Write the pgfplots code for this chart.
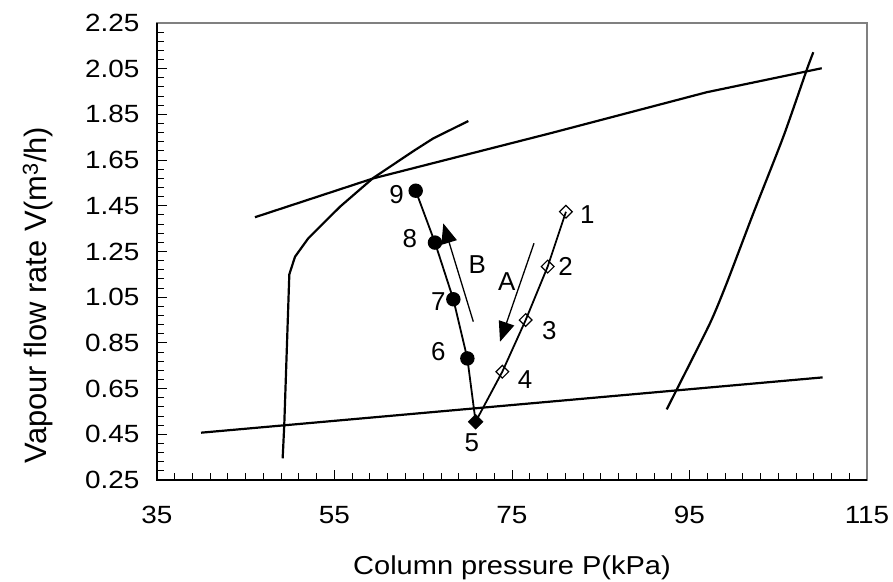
\documentclass[border=0pt]{standalone}
\usepackage{fontspec}
\setmainfont{Liberation Sans}
\newfontfamily\tickfont{Liberation Sans}[FakeStretch=1.12]
\usepackage{pgfplots}
\pgfplotsset{compat=1.18}
\usetikzlibrary{arrows.meta}
\begin{document}
\begin{tikzpicture}
\useasboundingbox (-157bp,-102bp) rectangle (736bp,480bp);
\begin{axis}[
 at={(0,0)}, anchor=south west,
 width=710bp, height=457bp, scale only axis,
 clip=false,
 xmin=35, xmax=115, ymin=0.25, ymax=2.25,
 xtick={35,55,75,95,115},
 ytick={0.25,0.45,0.65,0.85,1.05,1.25,1.45,1.65,1.85,2.05,2.25},
 minor x tick num=9, minor y tick num=4,
 tick align=inside, xtick pos=bottom, ytick pos=left,
 major tick length=10bp, minor tick length=7bp,
 every tick/.style={black, line width=1bp},
 axis line style={draw=gray, line width=1.5bp},
 /pgf/number format/assume math mode=true,
 ticklabel style={font=\tickfont\fontsize{25}{30}\selectfont},
 yticklabel style={/pgf/number format/fixed, /pgf/number format/fixed zerofill, /pgf/number format/precision=2, xshift=-14bp},
 xticklabel style={yshift=-23bp},
 xlabel={Column pressure P(kPa)},
 xlabel style={at={(axis description cs:0.5,0)}, anchor=base, yshift=-94bp, font=\tickfont\fontsize{26}{30}\selectfont},
 ylabel={Vapour flow rate V(m\textsuperscript{3}/h)},
 ylabel style={at={(axis description cs:-0.1676,0.405)}, anchor=center, font=\fontsize{31}{36}\selectfont},
]
% upper boundary line
\addplot[black, line width=2.2bp] coordinates {(46.04,1.400)(59.37,1.570)(79.28,1.767)(96.94,1.947)(109.9,2.052)};
% lower boundary line
\addplot[black, line width=2.2bp] coordinates {(39.96,0.457)(110.0,0.699)};
% left curve
\addplot[black, line width=2.2bp] coordinates {(49.16,0.345)(49.34,0.491)(49.91,1.150)(50.55,1.227)(52.05,1.308)(55.62,1.446)(59.37,1.572)(64.07,1.694)(66.13,1.745)(70.08,1.821)};
% right curve
\addplot[black, line width=2.2bp, smooth, tension=0.4] coordinates {(92.43,0.559)(93.63,0.651)(97.31,0.936)(99.19,1.111)(102.19,1.417)(105.57,1.752)(108.2,2.044)(108.95,2.122)};
% series A (1-5)
\addplot[black, line width=1.8bp, mark=square, mark size=4.5bp, mark indices={1,2,3,4}, mark options={rotate=45, fill=white, line width=1.2bp}] coordinates {(81.08,1.424)(79.02,1.184)(76.54,0.950)(73.91,0.724)(70.9,0.505)};
% series B (5-9)
\addplot[black, line width=1.8bp, mark=*, mark size=6.3bp, mark indices={2,3,4,5}] coordinates {(70.9,0.505)(69.97,0.782)(68.39,1.041)(66.32,1.289)(64.15,1.516)};
% point 5
\addplot[black, only marks, mark=square*, mark size=5.3bp, mark options={rotate=45}] coordinates {(70.9,0.505)};
% arrows
\addplot[black, line width=1.3bp, -{Triangle[length=20bp, width=16bp]}] coordinates {(77.48,1.286)(73.65,0.855)};
\addplot[black, line width=1.3bp, -{Triangle[length=20bp, width=16bp]}] coordinates {(70.64,0.943)(67.26,1.373)};
% labels
\begin{scope}[every node/.style={font=\fontsize{26}{30}\selectfont, inner sep=0pt}]
\node at (axis cs:83.49,1.41) {1};
\node at (axis cs:81.05,1.184) {2};
\node at (axis cs:79.2,0.906) {3};
\node at (axis cs:76.46,0.688) {4};
\node at (axis cs:70.46,0.411) {5};
\node at (axis cs:66.7,0.81) {6};
\node at (axis cs:66.7,1.03) {7};
\node at (axis cs:63.5,1.308) {8};
\node at (axis cs:62.0,1.50) {9};
\node at (axis cs:74.4,1.118) {A};
\node at (axis cs:71.09,1.194) {B};
\end{scope}
\draw[black, line width=1.8bp] (rel axis cs:0,1) -- (rel axis cs:0,0) -- (rel axis cs:1,0);
\end{axis}
\end{tikzpicture}
\end{document}
